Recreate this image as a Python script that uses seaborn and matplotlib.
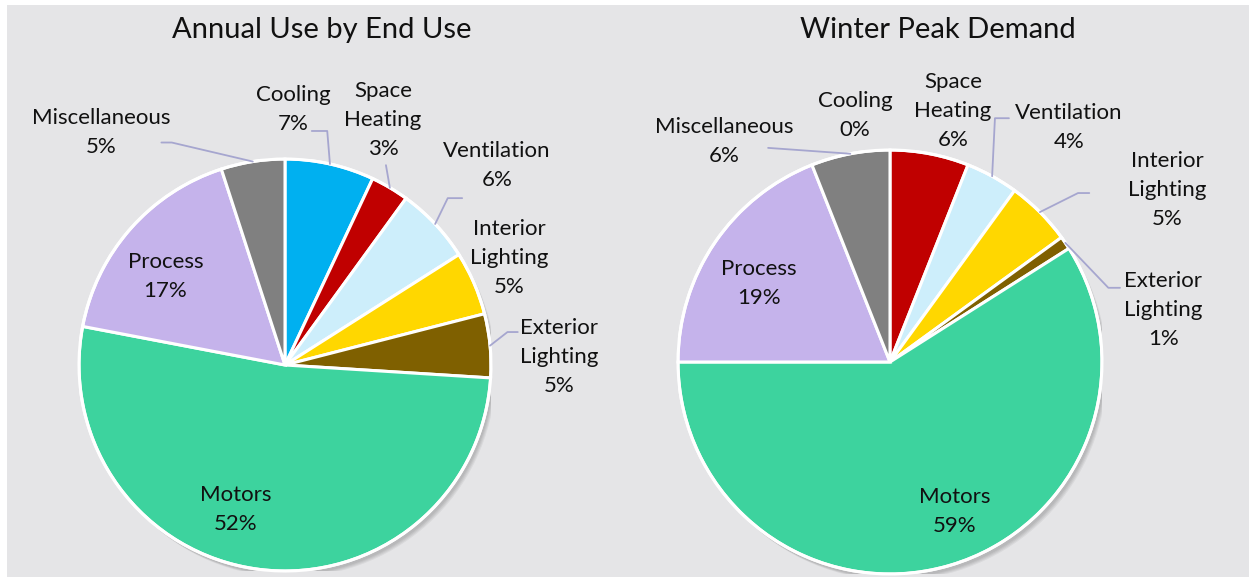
import numpy as np
import pandas as pd
import matplotlib.pyplot as plt
import seaborn as sns
from matplotlib.patches import Rectangle, Circle

# data
end_uses = ["Cooling", "Space\nHeating", "Ventilation", "Interior\nLighting",
            "Exterior\nLighting", "Motors", "Process", "Miscellaneous"]
annual_pct = [7, 3, 6, 5, 5, 52, 17, 5]
winter_pct = [0, 6, 4, 5, 1, 59, 19, 6]
colors = ["#00b0f0", "#c00000", "#cdeefb", "#ffd700",
          "#7f6000", "#3dd39e", "#c5b3eb", "#808080"]

df = pd.DataFrame({"end_use": end_uses, "annual": annual_pct, "winter": winter_pct})

# label layout (pie units, radius = 1)
annual_labels = [(0.04, 1.238), (0.476, 1.19), (1.03, 0.97), (1.09, 0.52),
                 (1.33, 0.04), (-0.24, -0.70), (-0.58, 0.43), (-0.89, 1.13)]
annual_leaders = [[(0.205, 1.136), (0.13, 1.136)],
                  [(0.49, 0.97)],
                  [(0.79, 0.81), (0.86, 0.81)],
                  None,
                  [(1.08, 0.16), (1.13, 0.16)],
                  None, None,
                  [(-0.55, 1.08), (-0.60, 1.08)]]
winter_labels = [(-0.165, 1.165), (0.297, 1.184), (0.844, 1.104), (1.307, 0.811),
                 (1.29, 0.245), (0.307, -0.703), (-0.62, 0.37), (-0.78, 1.04)]
winter_leaders = [None, None,
                  [(0.495, 1.15), (0.561, 1.15)],
                  [(0.887, 0.797), (0.94, 0.797)],
                  [(1.03, 0.35), (1.085, 0.35)],
                  None, None,
                  [(-0.575, 1.01)]]

sns.set_theme(style="white")
plt.rcParams['font.family'] = ['Lato', 'DejaVu Sans']

W, H = 1249, 577
fig = plt.figure(figsize=(W / 100, H / 100), dpi=100)
fig.patch.set_facecolor("white")
bg = Rectangle((7 / W, 0), 1 - 7 / W, 1 - 5 / H, transform=fig.transFigure,
               facecolor="#e5e5e7", edgecolor="none", zorder=-10)
fig.add_artist(bg)

leader_color = "#a6a6cf"


def draw_pie(cx, cy, R, values, title, title_x, label_pos, leaders):
    ax = fig.add_axes([(cx - R) / W, (H - cy - R) / H, 2 * R / W, 2 * R / H])
    ax.set_facecolor("none")
    # soft shadow
    for k in range(4):
        ax.add_patch(Circle((0.012 + 0.004 * k, -0.018 - 0.004 * k), 1.0, color="black",
                            alpha=0.05, lw=0, zorder=0))
    wedges, _ = ax.pie(values, colors=colors, startangle=90, counterclock=False,
                       radius=1.0, wedgeprops=dict(edgecolor="white", linewidth=2.2))
    ax.add_patch(Circle((0, 0), 1.0, fill=False, edgecolor="white", lw=2.2, zorder=5))
    total = float(np.sum(values))
    cum = np.cumsum(values) - np.array(values) / 2.0
    for i, (name, v) in enumerate(zip(end_uses, values)):
        x, y = label_pos[i]
        ax.text(x, y, f"{name}\n{v:.0f}%", ha="center", va="center", fontsize=16,
                color="#111111", linespacing=1.56, zorder=6)
        if leaders[i] is not None:
            ang = np.deg2rad(90 - 360 * cum[i] / total)
            pts = [(np.cos(ang), np.sin(ang))] + leaders[i]
            xs, ys = zip(*pts)
            ax.plot(xs, ys, color=leader_color, lw=1.3, clip_on=False, zorder=6)
    ax.set_xlim(-1, 1)
    ax.set_ylim(-1, 1)
    ax.set_aspect("equal")
    ax.axis("off")
    fig.text(title_x / W, 1 - 30 / H, title, ha="center", va="center", fontsize=21,
             color="#111111")


draw_pie(285, 365, 206, df["annual"].values, "Annual Use by End Use", 322,
         annual_labels, annual_leaders)
draw_pie(890, 362, 212, df["winter"].values, "Winter Peak Demand", 938,
         winter_labels, winter_leaders)

fig.savefig("out.png", dpi=100, facecolor="white")
